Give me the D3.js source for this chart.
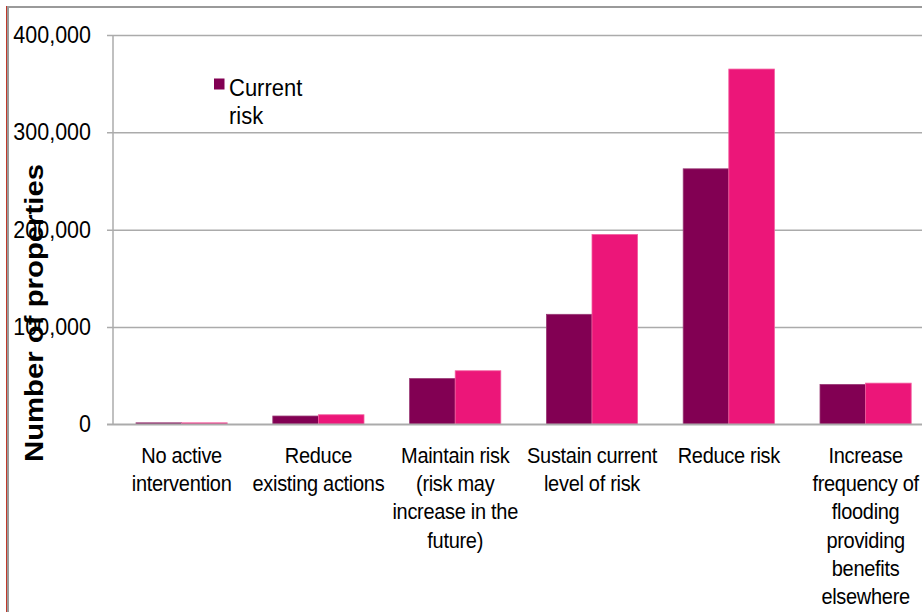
<!DOCTYPE html>
<html>
<head>
<meta charset="utf-8">
<script src="https://cdn.jsdelivr.net/npm/d3@7"></script>
<style>
  html, body { margin: 0; padding: 0; background: #fff; }
  svg { display: block; }
  text { font-family: "Liberation Sans", Arial, sans-serif; fill: #000; }
</style>
</head>
<body>
<svg id="chart" width="922" height="612"></svg>
<script>
// Properties affected under each flood-risk management policy
const categories = [
  ["No active", "intervention"],
  ["Reduce", "existing actions"],
  ["Maintain risk", "(risk may", "increase in the", "future)"],
  ["Sustain current", "level of risk"],
  ["Reduce risk"],
  ["Increase", "frequency of", "flooding", "providing", "benefits", "elsewhere"]
];
const seriesNames = ["Current risk", "Future risk"];
const currentRisk = [1500, 8500, 47000, 113000, 262500, 41000];
const futureRisk  = [1500, 9800, 55000, 195000, 365000, 42300];
const yTicks = [0, 100000, 200000, 300000, 400000];
const colors = ["#820053", "#EC1679"];
const edgeColors = ["#9a3a76", "#f25e9f"];

const svg = d3.select("#chart");
const W = 922, H = 612;
const stretch = 1.12; // text is drawn slightly tall

const plot = { left: 113, top: 35, bottom: 424.3, bandW: 136.8 };

const x = d3.scaleBand()
  .domain(d3.range(categories.length))
  .range([plot.left + 0.2, plot.left + 0.2 + plot.bandW * categories.length])
  .paddingInner(0).paddingOuter(0);

const xInner = d3.scaleBand()
  .domain(d3.range(seriesNames.length))
  .range([0, x.bandwidth()])
  .paddingInner(0).paddingOuter(0.5);

const y = d3.scaleLinear().domain([0, 400000]).range([plot.bottom, plot.top]);

// outer frame
svg.append("line").attr("x1", 6.5).attr("x2", 6.5).attr("y1", 6).attr("y2", H)
  .attr("stroke", "#c0392b").attr("stroke-width", 1);
svg.append("line").attr("x1", 8).attr("x2", 8).attr("y1", 6).attr("y2", H)
  .attr("stroke", "#9a9a9a").attr("stroke-width", 2);
svg.append("line").attr("x1", 7).attr("x2", W).attr("y1", 7).attr("y2", 7)
  .attr("stroke", "#9a9a9a").attr("stroke-width", 2);

// horizontal gridlines with ticks
const yAxis = d3.axisLeft(y)
  .tickValues(yTicks)
  .tickSize(-(W - plot.left))
  .tickSizeOuter(0)
  .tickFormat("");
const gAxis = svg.append("g").attr("transform", `translate(${plot.left},0)`).call(yAxis);
gAxis.select(".domain").remove();
gAxis.selectAll(".tick line").attr("stroke", "#ababab").attr("stroke-width", 1.5)
  .attr("x1", -6);

// vertical axis line
svg.append("line").attr("x1", plot.left).attr("x2", plot.left)
  .attr("y1", y(400000)).attr("y2", plot.bottom)
  .attr("stroke", "#ababab").attr("stroke-width", 1.5);

// tick labels
const fmt = d3.format(",");
svg.append("g").selectAll("text").data(yTicks).join("text")
  .attr("transform", d => `translate(91,${y(d) + 7.9}) scale(1,${stretch})`)
  .attr("text-anchor", "end")
  .style("font-size", "21.5px")
  .text(d => fmt(d));

// bars
const seriesData = [currentRisk, futureRisk];
const groups = svg.append("g").selectAll("g").data(seriesData).join("g");
groups.selectAll("rect").data((vals, si) => vals.map((v, ci) => ({ v, ci, si })))
  .join("rect")
  .attr("x", d => x(d.ci) + xInner(d.si))
  .attr("width", xInner.bandwidth())
  .attr("y", d => y(d.v))
  .attr("height", d => y(0) - y(d.v))
  .attr("fill", d => colors[d.si])
  .attr("stroke", d => edgeColors[d.si])
  .attr("stroke-width", 0.8);

// baseline over the bars
svg.append("line").attr("x1", plot.left - 6).attr("x2", W)
  .attr("y1", y(0)).attr("y2", y(0))
  .attr("stroke", "#ababab").attr("stroke-width", 1.5);

// category labels
const catG = svg.append("g");
categories.forEach((lines, ci) => {
  lines.forEach((line, li) => {
    catG.append("text")
      .attr("transform", `translate(${x(ci) + x.bandwidth() / 2},${463 + li * 28.2}) scale(1,${stretch})`)
      .attr("text-anchor", "middle")
      .style("font-size", "20px")
      .style("letter-spacing", "-0.3px")
      .text(line);
  });
});

// y-axis title
svg.append("text")
  .attr("transform", `translate(43,313) scale(1,${stretch + 0.03}) rotate(-90)`)
  .attr("text-anchor", "middle")
  .style("font-size", "25.5px")
  .style("font-weight", "bold")
  .text("Number of properties");

// legend (first series)
const leg = svg.append("g");
leg.append("rect").attr("x", 214).attr("y", 78.5).attr("width", 10.5).attr("height", 11)
  .attr("fill", colors[0]);
const legWords = seriesNames[0].split(" ");
legWords.forEach((w, i) => {
  leg.append("text")
    .attr("transform", `translate(229,${95.5 + i * 28.5}) scale(1,${stretch})`)
    .style("font-size", "22px")
    .text(w);
});
</script>
</body>
</html>
